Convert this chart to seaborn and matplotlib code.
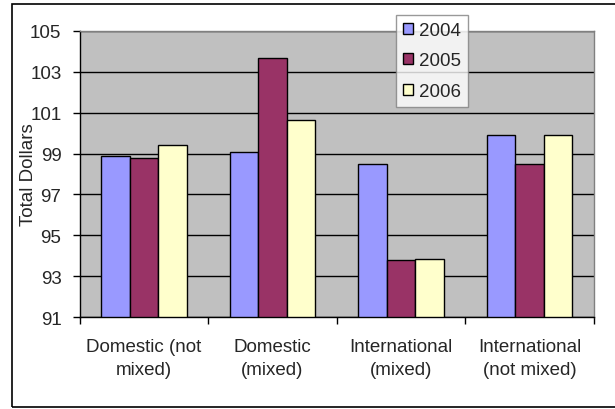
import matplotlib
matplotlib.use("Agg")
import matplotlib.pyplot as plt
import matplotlib.patches as mpatches
import seaborn as sns
import pandas as pd

categories = ["Domestic (not\nmixed)", "Domestic\n(mixed)", "International\n(mixed)", "International\n(not mixed)"]
years = ["2004", "2005", "2006"]
values_2004 = [98.87, 99.06, 98.51, 99.91]
values_2005 = [98.78, 103.68, 93.77, 98.51]
values_2006 = [99.42, 100.64, 93.85, 99.91]
y_ticks = [91, 93, 95, 97, 99, 101, 103, 105]

colors = ["#9999FF", "#993366", "#FFFFCC"]

df = pd.DataFrame({
    "category": categories * 3,
    "year": [y for y in years for _ in categories],
    "value": values_2004 + values_2005 + values_2006,
})

sns.set_theme(style="white")
plt.rcParams["font.family"] = ["Liberation Sans", "DejaVu Sans"]

FS = 13.5

fig = plt.figure(figsize=(6.15, 4.1), dpi=100)
fig.patch.set_facecolor("white")
ax = fig.add_axes([79.5 / 615, 1 - 318 / 410, (594 - 79.5) / 615, (318 - 32) / 410])
ax.set_facecolor("#C0C0C0")

sns.barplot(data=df, x="category", y="value", hue="year", order=categories,
            hue_order=years, palette=colors, width=0.665, gap=0,
            edgecolor="black", linewidth=1.0, saturation=1, ax=ax, legend=False)

ax.set_ylim(91, 105)
ax.set_xlim(-0.5, 3.5)
ax.set_yticks(y_ticks)
ax.set_yticklabels([str(t) for t in y_ticks], fontsize=FS)
ax.yaxis.grid(True, color="black", linewidth=1.0)
ax.set_axisbelow(True)

ax.set_xticks(range(len(categories)))
ax.set_xticklabels(categories, fontsize=FS, linespacing=1.48)
ax.set_xticks([i - 0.5 for i in range(len(categories) + 1)], minor=True)
ax.tick_params(axis="x", which="major", length=0, pad=15)
ax.tick_params(axis="x", which="minor", length=5, width=1, color="black", direction="out", bottom=True)
ax.tick_params(axis="y", length=5, width=1, color="black", direction="out", left=True, pad=8)

ax.set_xlabel("")
ax.set_ylabel("Total Dollars", fontsize=FS)
ax.yaxis.set_label_coords((37 - 79.5) / (594 - 79.5), 0.5)

ax.spines["left"].set_color("black")
ax.spines["bottom"].set_color("black")
ax.spines["top"].set_color("#808080")
ax.spines["right"].set_color("#808080")
for s in ax.spines.values():
    s.set_linewidth(1.0)

handles = [mpatches.Patch(facecolor=c, edgecolor="black", linewidth=1.0) for c in colors]
leg = fig.legend(handles, years, loc="upper left", bbox_to_anchor=(396 / 615, 1 - 15.7 / 410),
                 fontsize=FS, frameon=True, fancybox=False, handlelength=0.5, handleheight=0.5,
                 handletextpad=0.35, labelspacing=0.72, borderpad=0.38, borderaxespad=0)
leg.get_frame().set_edgecolor("#808080")
leg.get_frame().set_linewidth(1.0)
leg.get_frame().set_facecolor("white")

# outer chart frame
frame = mpatches.Rectangle((12 / 615, 1 - 408 / 410), 1.0, (408 - 4.7) / 410,
                           transform=fig.transFigure, fill=False, edgecolor="black",
                           linewidth=1.2, clip_on=False)
fig.patches.append(frame)

fig.savefig("out.png", dpi=100)
